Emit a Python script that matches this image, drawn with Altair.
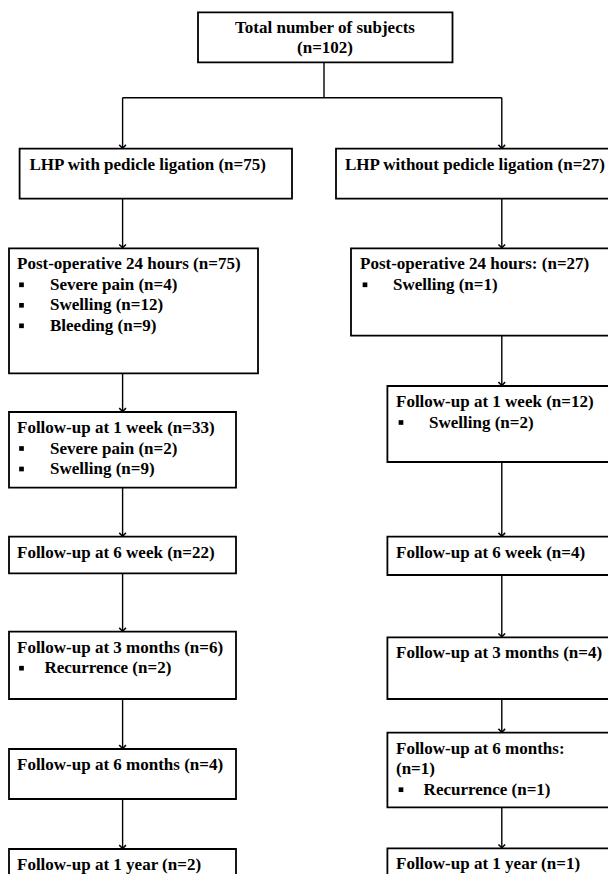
import altair as alt
import pandas as pd

# ---- text content ----
top_lines = ["Total number of subjects", "(n=102)"]
left_titles = [
    ["LHP with pedicle ligation (n=75)"],
    ["Post-operative 24 hours (n=75)"],
    ["Follow-up at 1 week (n=33)"],
    ["Follow-up at 6 week (n=22)"],
    ["Follow-up at 3 months (n=6)"],
    ["Follow-up at 6 months (n=4)"],
    ["Follow-up at 1 year (n=2)"],
]
left_bullets = [
    [],
    ["Severe pain (n=4)", "Swelling (n=12)", "Bleeding (n=9)"],
    ["Severe pain (n=2)", "Swelling (n=9)"],
    [],
    ["Recurrence (n=2)"],
    [],
    [],
]
right_titles = [
    ["LHP without pedicle ligation (n=27)"],
    ["Post-operative 24 hours: (n=27)"],
    ["Follow-up at 1 week (n=12)"],
    ["Follow-up at 6 week (n=4)"],
    ["Follow-up at 3 months (n=4)"],
    ["Follow-up at 6 months:", "(n=1)"],
    ["Follow-up at 1 year (n=1)"],
]
right_bullets = [
    [],
    ["Swelling (n=1)"],
    ["Swelling (n=2)"],
    [],
    [],
    ["Recurrence (n=1)"],
    [],
]

# ---- layout (page pixel coordinates) ----
LINE = 20.5
top_box = dict(x=198, x2=452.5, y=12.3, y2=62.3)
left_boxes = [
    (19.6, 292, 148.7, 198.7, 29.5, 50),
    (9, 258, 248.3, 373.3, 17, 50),
    (9, 236, 412, 487.7, 17, 50),
    (9, 236, 536.7, 573.3, 17, 50),
    (9, 236, 631.7, 699, 17, 44.4),
    (9, 236, 749, 799, 17, 50),
    (9, 236, 849, 900, 17, 50),
]
right_boxes = [
    (336, 630, 148.7, 198.7, 345, 393),
    (351, 630, 248.3, 335.7, 360, 393),
    (387.4, 630, 386, 462, 396, 429),
    (387.4, 630, 536.7, 575, 396, 429),
    (387.4, 630, 637.3, 699, 396, 429),
    (387.4, 630, 732.7, 807.3, 396, 423.6),
    (387.4, 630, 848.3, 900, 396, 429),
]
LX, RX, CX = 122.6, 501.8, 324

rects, texts, bullets, segs, heads = [], [], [], [], []
rects.append(top_box)
texts.append(dict(x=CX + 1, y=27.7, t=top_lines[0], a="center"))
texts.append(dict(x=CX + 1, y=48.0, t=top_lines[1], a="center"))

for boxes, titles, buls in ((left_boxes, left_titles, left_bullets),
                            (right_boxes, right_titles, right_bullets)):
    for (x, x2, y, y2, tx, bx), tl, bl in zip(boxes, titles, buls):
        rects.append(dict(x=x, x2=x2, y=y, y2=y2))
        yy = y + 16
        for t in tl:
            texts.append(dict(x=tx, y=yy, t=t, a="left"))
            yy += LINE
        for t in bl:
            texts.append(dict(x=bx, y=yy, t=t, a="left"))
            bullets.append(dict(x=tx + (4.5 if boxes is left_boxes else 5), y=yy))
            yy += LINE

# connectors
segs.append(dict(x=CX, x2=CX, y=62.3, y2=97.7))
segs.append(dict(x=LX, x2=RX, y=97.7, y2=97.7))
for col, boxes in ((LX, left_boxes), (RX, right_boxes)):
    segs.append(dict(x=col, x2=col, y=97.7, y2=148.7))
    heads.append(dict(x=col, y=148.2))
    for b0, b1 in zip(boxes[:-1], boxes[1:]):
        segs.append(dict(x=col, x2=col, y=b0[3], y2=b1[2]))
        heads.append(dict(x=col, y=b1[2] - 0.5))

W, H = 600, 866
xs = alt.Scale(domain=[8, 8 + W], nice=False, zero=False)
ys = alt.Scale(domain=[8, 8 + H], nice=False, zero=False, reverse=True)
X = lambda f="x": alt.X(f"{f}:Q", scale=xs, axis=None)
Y = lambda f="y": alt.Y(f"{f}:Q", scale=ys, axis=None)

rect_layer = alt.Chart(pd.DataFrame(rects)).mark_rect(
    fill="white", stroke="black", strokeWidth=1.8, clip=True
).encode(x=X(), x2="x2:Q", y=Y(), y2="y2:Q")

seg_layer = alt.Chart(pd.DataFrame(segs)).mark_rule(
    color="black", strokeWidth=1.4, clip=True
).encode(x=X(), x2="x2:Q", y=Y(), y2="y2:Q")

head_layer = alt.Chart(pd.DataFrame(heads)).mark_point(
    shape="M-1,-1L0,0L1,-1", filled=False, color="black", strokeWidth=1.5,
    size=45, opacity=1
).encode(x=X(), y=Y())

bullet_layer = alt.Chart(pd.DataFrame(bullets)).mark_square(
    color="black", size=22, opacity=1
).encode(x=X(), y=Y())

tdf = pd.DataFrame(texts)
text_layers = []
for a in ("left", "center"):
    text_layers.append(
        alt.Chart(tdf[tdf.a == a]).mark_text(
            align=a, baseline="middle", font="Liberation Serif",
            fontWeight="bold", fontSize=17, color="black"
        ).encode(x=X(), y=Y(), text="t:N")
    )

chart = alt.layer(seg_layer, head_layer, rect_layer, bullet_layer, *text_layers).properties(
    width=W, height=H, padding=0,
    autosize=alt.AutoSizeParams(type="none"),
    background="white",
).configure_view(stroke=None)

chart.save("out.html", embed_options={"renderer": "svg", "actions": False})
